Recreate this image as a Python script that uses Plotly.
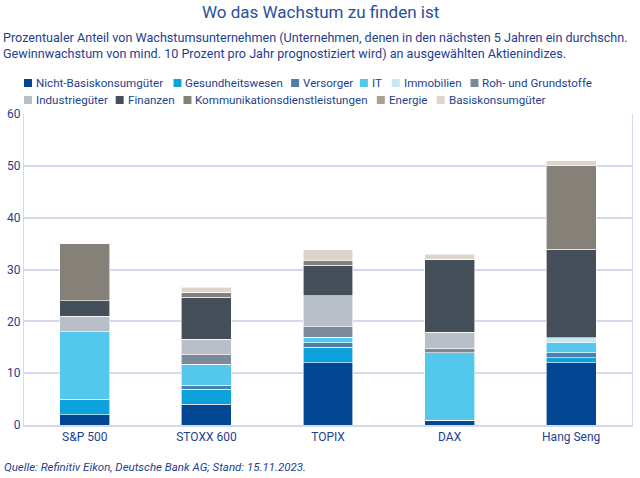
import plotly.graph_objects as go

# Indices on the x axis
indices = ['S&P 500', 'STOXX 600', 'TOPIX', 'DAX', 'Hang Seng']

# Sector shares (percent) per index
nicht_basiskonsum = [2, 4, 12, 0.9, 12]
gesundheitswesen = [3, 2.9, 3, 0, 1]
versorger = [0, 0.8, 0.9, 0, 0.9]
it = [13, 4, 1, 13, 2]
immobilien = [0, 0, 0, 0, 0.9]
roh_grundstoffe = [0, 1.9, 2.1, 0.9, 0]
industriegueter = [3, 2.9, 5.9, 3.1, 0]
finanzen = [3, 8.1, 5.9, 14.1, 17.1]
kommunikation = [11, 1, 0.9, 0, 16.1]
energie = [0, 0, 0, 0, 0]
basiskonsum = [0, 1, 2.1, 0.9, 1]

sectors = [
    ('Nicht-Basiskonsumgüter', nicht_basiskonsum, '#034694'),
    ('Gesundheitswesen', gesundheitswesen, '#0ea2dc'),
    ('Versorger', versorger, '#4f7fa8'),
    ('IT', it, '#54c8ec'),
    ('Immobilien', immobilien, '#c5e8f4'),
    ('Roh- und Grundstoffe', roh_grundstoffe, '#7a8a9b'),
    ('Industriegüter', industriegueter, '#b8bfc9'),
    ('Finanzen', finanzen, '#454f5a'),
    ('Kommunikationsdienstleistungen', kommunikation, '#858078'),
    ('Energie', energie, '#a9a190'),
    ('Basiskonsumgüter', basiskonsum, '#ddd5ca'),
]

# legend layout (pixel position of each swatch: left x, row centre y)
legend_pos = [(23, 83), (173, 83), (291, 83), (360, 83), (392, 83), (471, 83),
              (23, 100), (115, 100), (183, 100), (377, 100), (437, 100)]

blue = '#1c3f8f'
font_family = 'Roboto'
W, H = 640, 478
ml, mr, mt, mb = 23, 7, 114, 53
pw, ph = W - ml - mr, H - mt - mb


def px(x):
    # pixel x -> paper x
    return (x - ml) / pw


def py(y):
    # pixel y (from top) -> paper y
    return (H - mb - y) / ph


fig = go.Figure()
for name, values, color in sectors:
    fig.add_trace(go.Bar(
        x=indices, y=values, name=name,
        marker=dict(color=color, line=dict(color='white', width=0.6)),
    ))

fig.update_layout(
    barmode='stack',
    bargap=0.59,
    width=W, height=H,
    margin=dict(l=ml, r=mr, t=mt, b=mb),
    paper_bgcolor='white',
    plot_bgcolor='white',
    font=dict(family=font_family, size=12, color=blue),
    showlegend=False,
)

fig.update_xaxes(
    showgrid=False, showline=True, linecolor='#d5d9ec', linewidth=1.5,
    tickfont=dict(size=12, color=blue), ticks='',
)
fig.update_yaxes(
    range=[0, 60], dtick=10, showgrid=True, gridcolor='#d5d9ec', gridwidth=1.5,
    showline=True, linecolor='#d5d9ec', mirror=True, zeroline=False,
    tickfont=dict(size=12, color=blue), ticks='',
)

# title and subtitle
fig.add_annotation(text='Wo das Wachstum zu finden ist', xref='paper', yref='paper',
                   x=px(320), y=py(12), xanchor='center', yanchor='middle',
                   showarrow=False, font=dict(size=17, color='#2a4f9c'))
fig.add_annotation(text='Prozentualer Anteil von Wachstumsunternehmen (Unternehmen, denen in den nächsten 5 Jahren ein durchschn.',
                   xref='paper', yref='paper', x=px(0), y=py(37), xanchor='left', yanchor='middle',
                   showarrow=False, font=dict(size=12.6, color=blue))
fig.add_annotation(text='Gewinnwachstum von mind. 10 Prozent pro Jahr prognostiziert wird) an ausgewählten Aktienindizes.',
                   xref='paper', yref='paper', x=px(0), y=py(54), xanchor='left', yanchor='middle',
                   showarrow=False, font=dict(size=12.6, color=blue))

# legend drawn as swatches + labels
for (name, values, color), (lx, ly) in zip(sectors, legend_pos):
    fig.add_shape(type='rect', xref='paper', yref='paper',
                  x0=px(lx), x1=px(lx + 8), y0=py(ly + 4), y1=py(ly - 4),
                  fillcolor=color, line=dict(width=0))
    fig.add_annotation(text=name, xref='paper', yref='paper', x=px(lx + 10), y=py(ly),
                       xanchor='left', yanchor='middle', showarrow=False,
                       font=dict(size=11.6, color=blue))

# source
fig.add_annotation(
    text='<i>Quelle: Refinitiv Eikon, Deutsche Bank AG; Stand: 15.11.2023.</i>',
    xref='paper', yref='paper', x=px(1), y=py(467), xanchor='left', yanchor='middle',
    showarrow=False, align='left', font=dict(size=11.5, color=blue),
)

# page body has a default margin; drop it so the figure sits at the window origin
fig.write_html('out.html', config={'displayModeBar': False},
               post_script="document.body.style.margin='0';")
